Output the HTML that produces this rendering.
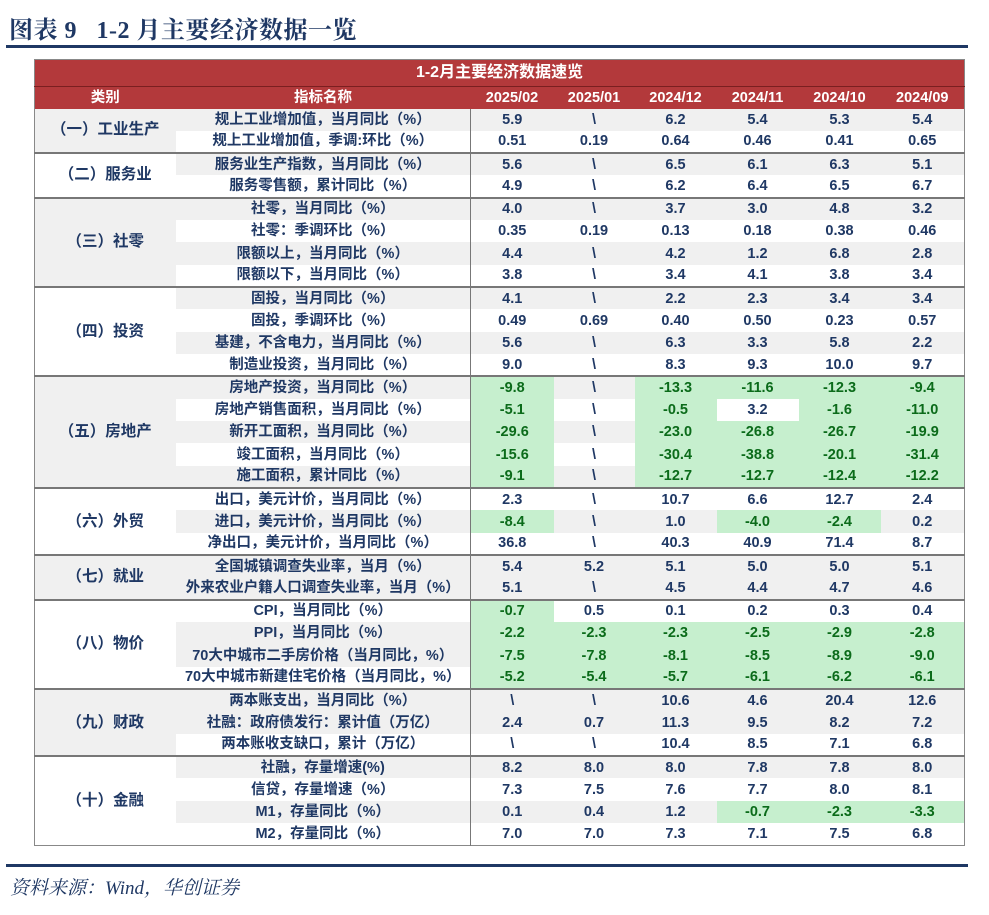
<!DOCTYPE html>
<html><head><meta charset="utf-8"><style>
body{margin:0;width:989px;height:915px;background:#fff;position:relative;overflow:hidden;font-family:"Liberation Sans","Noto Sans CJK SC",sans-serif;}
.title{position:absolute;left:9px;top:10px;font-family:"Liberation Serif","Noto Serif CJK SC",serif;font-weight:bold;font-size:24px;color:#1f3864;letter-spacing:0.5px;}
.line1{position:absolute;left:6px;top:45px;width:962px;height:3px;background:#1f3864;}
.line2{position:absolute;left:6px;top:864px;width:962px;height:3px;background:#1f3864;}
.src{position:absolute;left:10px;top:873px;font-family:"Liberation Serif","Noto Serif CJK SC",serif;font-style:italic;font-size:19px;color:#1f3864;}
table{position:absolute;left:34px;top:59px;width:930px;border-collapse:collapse;table-layout:fixed;font-weight:bold;font-size:14.5px;color:#1f3864;}
td{padding:0;text-align:center;height:22.33px;line-height:18px;white-space:nowrap;overflow:hidden;box-sizing:border-box;}
tr.h1 td{background:#b3393b;color:#fff;font-size:16px;height:27px;border-bottom:1px solid #7a1f20;}
tr.h2 td{background:#b3393b;color:#fff;height:22px;}
td.c{font-size:15.5px;}
tr.g td.i,tr.g td.v{background:#f0f0f0;}
td.cg{background:#f0f0f0;}
td.gr,tr.g td.gr{background:#c6efce;color:#0b6b1a;}
td.i{border-right:1px solid #777;}
tr.s td{border-top:2px solid #777;}
table{border:1px solid #888;}
</style></head><body>
<div class="title">图表 9&nbsp;&nbsp;&nbsp;1-2 月主要经济数据一览</div>
<div class="line1"></div>
<table>
<colgroup><col style="width:141px"><col style="width:295px"><col style="width:83px"><col style="width:81px"><col style="width:82px"><col style="width:82px"><col style="width:82px"><col style="width:84px"></colgroup>
<tr class="h1"><td colspan="8">1-2月主要经济数据速览</td></tr>
<tr class="h2"><td>类别</td><td>指标名称</td><td>2025/02</td><td>2025/01</td><td>2024/12</td><td>2024/11</td><td>2024/10</td><td>2024/09</td></tr>

<tr class="g"><td class="c cg" rowspan="2">（一）工业生产</td><td class="i">规上工业增加值，当月同比（%）</td><td class="v">5.9</td><td class="v">\</td><td class="v">6.2</td><td class="v">5.4</td><td class="v">5.3</td><td class="v">5.4</td></tr>
<tr><td class="i">规上工业增加值，季调:环比（%）</td><td class="v">0.51</td><td class="v">0.19</td><td class="v">0.64</td><td class="v">0.46</td><td class="v">0.41</td><td class="v">0.65</td></tr>

<tr class="g s"><td class="c" rowspan="2">（二）服务业</td><td class="i">服务业生产指数，当月同比（%）</td><td class="v">5.6</td><td class="v">\</td><td class="v">6.5</td><td class="v">6.1</td><td class="v">6.3</td><td class="v">5.1</td></tr>
<tr><td class="i">服务零售额，累计同比（%）</td><td class="v">4.9</td><td class="v">\</td><td class="v">6.2</td><td class="v">6.4</td><td class="v">6.5</td><td class="v">6.7</td></tr>

<tr class="g s"><td class="c cg" rowspan="4">（三）社零</td><td class="i">社零，当月同比（%）</td><td class="v">4.0</td><td class="v">\</td><td class="v">3.7</td><td class="v">3.0</td><td class="v">4.8</td><td class="v">3.2</td></tr>
<tr><td class="i">社零：季调环比（%）</td><td class="v">0.35</td><td class="v">0.19</td><td class="v">0.13</td><td class="v">0.18</td><td class="v">0.38</td><td class="v">0.46</td></tr>
<tr class="g"><td class="i">限额以上，当月同比（%）</td><td class="v">4.4</td><td class="v">\</td><td class="v">4.2</td><td class="v">1.2</td><td class="v">6.8</td><td class="v">2.8</td></tr>
<tr><td class="i">限额以下，当月同比（%）</td><td class="v">3.8</td><td class="v">\</td><td class="v">3.4</td><td class="v">4.1</td><td class="v">3.8</td><td class="v">3.4</td></tr>

<tr class="g s"><td class="c" rowspan="4">（四）投资</td><td class="i">固投，当月同比（%）</td><td class="v">4.1</td><td class="v">\</td><td class="v">2.2</td><td class="v">2.3</td><td class="v">3.4</td><td class="v">3.4</td></tr>
<tr><td class="i">固投，季调环比（%）</td><td class="v">0.49</td><td class="v">0.69</td><td class="v">0.40</td><td class="v">0.50</td><td class="v">0.23</td><td class="v">0.57</td></tr>
<tr class="g"><td class="i">基建，不含电力，当月同比（%）</td><td class="v">5.6</td><td class="v">\</td><td class="v">6.3</td><td class="v">3.3</td><td class="v">5.8</td><td class="v">2.2</td></tr>
<tr><td class="i">制造业投资，当月同比（%）</td><td class="v">9.0</td><td class="v">\</td><td class="v">8.3</td><td class="v">9.3</td><td class="v">10.0</td><td class="v">9.7</td></tr>

<tr class="g s"><td class="c cg" rowspan="5">（五）房地产</td><td class="i">房地产投资，当月同比（%）</td><td class="v gr">-9.8</td><td class="v">\</td><td class="v gr">-13.3</td><td class="v gr">-11.6</td><td class="v gr">-12.3</td><td class="v gr">-9.4</td></tr>
<tr><td class="i">房地产销售面积，当月同比（%）</td><td class="v gr">-5.1</td><td class="v">\</td><td class="v gr">-0.5</td><td class="v">3.2</td><td class="v gr">-1.6</td><td class="v gr">-11.0</td></tr>
<tr class="g"><td class="i">新开工面积，当月同比（%）</td><td class="v gr">-29.6</td><td class="v">\</td><td class="v gr">-23.0</td><td class="v gr">-26.8</td><td class="v gr">-26.7</td><td class="v gr">-19.9</td></tr>
<tr><td class="i">竣工面积，当月同比（%）</td><td class="v gr">-15.6</td><td class="v">\</td><td class="v gr">-30.4</td><td class="v gr">-38.8</td><td class="v gr">-20.1</td><td class="v gr">-31.4</td></tr>
<tr class="g"><td class="i">施工面积，累计同比（%）</td><td class="v gr">-9.1</td><td class="v">\</td><td class="v gr">-12.7</td><td class="v gr">-12.7</td><td class="v gr">-12.4</td><td class="v gr">-12.2</td></tr>

<tr class="s"><td class="c" rowspan="3">（六）外贸</td><td class="i">出口，美元计价，当月同比（%）</td><td class="v">2.3</td><td class="v">\</td><td class="v">10.7</td><td class="v">6.6</td><td class="v">12.7</td><td class="v">2.4</td></tr>
<tr class="g"><td class="i">进口，美元计价，当月同比（%）</td><td class="v gr">-8.4</td><td class="v">\</td><td class="v">1.0</td><td class="v gr">-4.0</td><td class="v gr">-2.4</td><td class="v">0.2</td></tr>
<tr><td class="i">净出口，美元计价，当月同比（%）</td><td class="v">36.8</td><td class="v">\</td><td class="v">40.3</td><td class="v">40.9</td><td class="v">71.4</td><td class="v">8.7</td></tr>

<tr class="g s"><td class="c cg" rowspan="2">（七）就业</td><td class="i">全国城镇调查失业率，当月（%）</td><td class="v">5.4</td><td class="v">5.2</td><td class="v">5.1</td><td class="v">5.0</td><td class="v">5.0</td><td class="v">5.1</td></tr>
<tr class="g"><td class="i">外来农业户籍人口调查失业率，当月（%）</td><td class="v">5.1</td><td class="v">\</td><td class="v">4.5</td><td class="v">4.4</td><td class="v">4.7</td><td class="v">4.6</td></tr>

<tr class="s"><td class="c" rowspan="4">（八）物价</td><td class="i">CPI，当月同比（%）</td><td class="v gr">-0.7</td><td class="v">0.5</td><td class="v">0.1</td><td class="v">0.2</td><td class="v">0.3</td><td class="v">0.4</td></tr>
<tr class="g"><td class="i">PPI，当月同比（%）</td><td class="v gr">-2.2</td><td class="v gr">-2.3</td><td class="v gr">-2.3</td><td class="v gr">-2.5</td><td class="v gr">-2.9</td><td class="v gr">-2.8</td></tr>
<tr class="g"><td class="i">70大中城市二手房价格（当月同比，%）</td><td class="v gr">-7.5</td><td class="v gr">-7.8</td><td class="v gr">-8.1</td><td class="v gr">-8.5</td><td class="v gr">-8.9</td><td class="v gr">-9.0</td></tr>
<tr><td class="i">70大中城市新建住宅价格（当月同比，%）</td><td class="v gr">-5.2</td><td class="v gr">-5.4</td><td class="v gr">-5.7</td><td class="v gr">-6.1</td><td class="v gr">-6.2</td><td class="v gr">-6.1</td></tr>

<tr class="g s"><td class="c cg" rowspan="3">（九）财政</td><td class="i">两本账支出，当月同比（%）</td><td class="v">\</td><td class="v">\</td><td class="v">10.6</td><td class="v">4.6</td><td class="v">20.4</td><td class="v">12.6</td></tr>
<tr class="g"><td class="i">社融：政府债发行：累计值（万亿）</td><td class="v">2.4</td><td class="v">0.7</td><td class="v">11.3</td><td class="v">9.5</td><td class="v">8.2</td><td class="v">7.2</td></tr>
<tr><td class="i">两本账收支缺口，累计（万亿）</td><td class="v">\</td><td class="v">\</td><td class="v">10.4</td><td class="v">8.5</td><td class="v">7.1</td><td class="v">6.8</td></tr>

<tr class="g s"><td class="c" rowspan="4">（十）金融</td><td class="i">社融，存量增速(%)</td><td class="v">8.2</td><td class="v">8.0</td><td class="v">8.0</td><td class="v">7.8</td><td class="v">7.8</td><td class="v">8.0</td></tr>
<tr><td class="i">信贷，存量增速（%）</td><td class="v">7.3</td><td class="v">7.5</td><td class="v">7.6</td><td class="v">7.7</td><td class="v">8.0</td><td class="v">8.1</td></tr>
<tr class="g"><td class="i">M1，存量同比（%）</td><td class="v">0.1</td><td class="v">0.4</td><td class="v">1.2</td><td class="v gr">-0.7</td><td class="v gr">-2.3</td><td class="v gr">-3.3</td></tr>
<tr><td class="i">M2，存量同比（%）</td><td class="v">7.0</td><td class="v">7.0</td><td class="v">7.3</td><td class="v">7.1</td><td class="v">7.5</td><td class="v">6.8</td></tr>
</table>
<div class="line2"></div>
<div class="src">资料来源：Wind，华创证券</div>
</body></html>
